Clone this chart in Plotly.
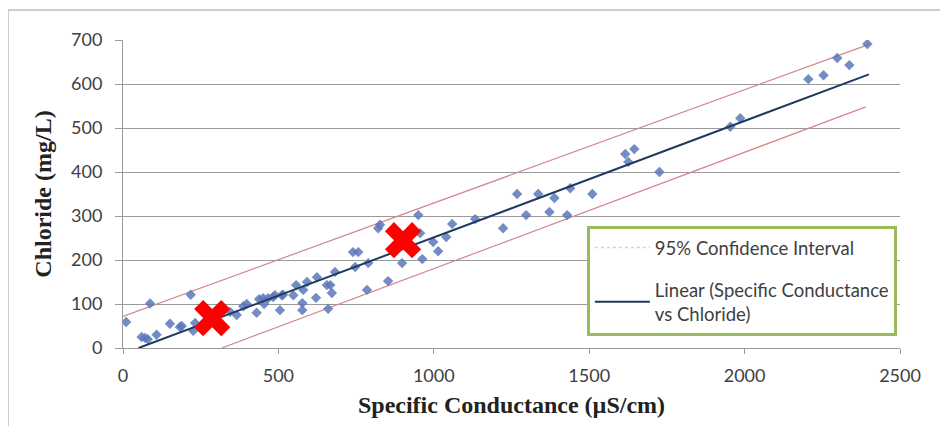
import plotly.graph_objects as go

# Measured data: specific conductance (uS/cm) vs chloride (mg/L)
cond = [10, 60, 71, 80, 87, 108, 151, 183, 189, 218, 226, 232, 250, 265,
        345, 366, 387, 398, 430, 438, 451, 454, 467, 483, 489, 505, 511, 515,
        548, 557, 577, 577, 580, 592, 621, 624, 656, 660, 667, 672, 682,
        740, 747, 757, 785, 789, 821, 827, 853, 898, 950, 956, 963, 998,
        1014, 1040, 1059, 1133, 1223, 1268, 1297, 1336, 1372, 1388, 1429,
        1439, 1510, 1616, 1626, 1645, 1726, 1954, 1986, 2205, 2254, 2298,
        2337, 2395]
chloride = [59, 25, 23, 20, 101, 30, 55, 48, 50, 121, 39, 57, 45, 55,
            82, 75, 95, 100, 80, 111, 113, 100, 113, 116, 120, 86, 120, 121,
            120, 143, 102, 86, 132, 150, 114, 161, 143, 89, 143, 125, 173,
            218, 184, 218, 132, 193, 272, 280, 152, 193, 302, 261, 202, 241,
            220, 252, 282, 293, 272, 350, 302, 350, 309, 341, 302,
            363, 350, 441, 423, 452, 400, 503, 522, 611, 620, 659,
            643, 691]

# Fitted regression line and 95% confidence band
fit_x = [50, 2400]
fit_y = [0, 622]
ci_upper_x = [0, 2400]
ci_upper_y = [72, 690]
ci_lower_x = [318, 2390]
ci_lower_y = [0, 548]

# Highlighted samples (red crosses)
mark_x = [287, 901]
mark_y = [68, 245]

fig = go.Figure()

fig.add_trace(go.Scatter(x=ci_upper_x, y=ci_upper_y, mode="lines",
                         line=dict(color="#d4878a", width=1.2), showlegend=False))
fig.add_trace(go.Scatter(x=ci_lower_x, y=ci_lower_y, mode="lines",
                         line=dict(color="#d4878a", width=1.2), showlegend=False))
fig.add_trace(go.Scatter(x=cond, y=chloride, mode="markers",
                         marker=dict(symbol="diamond", size=8, color="#5a78b8",
                                     opacity=0.85, line=dict(width=0)),
                         showlegend=False))
fig.add_trace(go.Scatter(x=fit_x, y=fit_y, mode="lines",
                         line=dict(color="#1f3a60", width=2), showlegend=False))
fig.add_trace(go.Scatter(x=mark_x, y=mark_y, mode="markers",
                         marker=dict(symbol="x", size=32, color="#ff0000",
                                     line=dict(width=0)),
                         showlegend=False))

# Legend-only entries
fig.add_trace(go.Scatter(x=[None], y=[None], mode="lines",
                         name="95% Confidence Interval", legendgroup="ci",
                         line=dict(color="#d0d0d8", width=1.5, dash="dot")))
fig.add_trace(go.Scatter(x=[None], y=[None], mode="lines",
                         name="Linear (Specific Conductance<br>vs Chloride)",
                         legendgroup="fit",
                         line=dict(color="#1f3a60", width=2)))

fig.update_layout(
    width=940, height=418,
    margin=dict(l=115, r=48, t=32, b=78),
    paper_bgcolor="white", plot_bgcolor="white",
    font=dict(family="Lato", size=18, color="#404040"),
    legend=dict(x=0.597, y=0.396, xanchor="left", yanchor="top",
                bordercolor="#9bbb59", borderwidth=3, bgcolor="white",
                font=dict(family="Lato", size=18.5, color="#404040"),
                tracegroupgap=15, itemwidth=55),
    xaxis=dict(range=[0, 2500], tickvals=[0, 500, 1000, 1500, 2000, 2500],
               showgrid=False, zeroline=False, showline=True,
               linecolor="#999999", linewidth=1, ticks="outside",
               ticklen=5, tickcolor="#999999", ticklabelstandoff=6,
               title=dict(text="<b>Specific Conductance (µS/cm)</b>",
                          font=dict(family="Liberation Serif", size=24,
                                    color="#222222"), standoff=11)),
    yaxis=dict(range=[0, 700], tickvals=[0, 100, 200, 300, 400, 500, 600, 700],
               showgrid=True, gridcolor="#9a9a9a", gridwidth=1,
               zeroline=False, showline=True, linecolor="#999999",
               ticks="outside", ticklen=7, tickcolor="#999999",
               ticklabelstandoff=9,
               title=dict(text="<b>Chloride (mg/L)</b>",
                          font=dict(family="Liberation Serif", size=24,
                                    color="#222222"), standoff=12)),
    shapes=[dict(type="rect", xref="paper", yref="paper",
                 x0=-0.148, x1=1.055, y0=-0.3, y1=1.097,
                 line=dict(color="#bfbfbf", width=1.5), layer="below")],
)

fig.write_html("out.html")
